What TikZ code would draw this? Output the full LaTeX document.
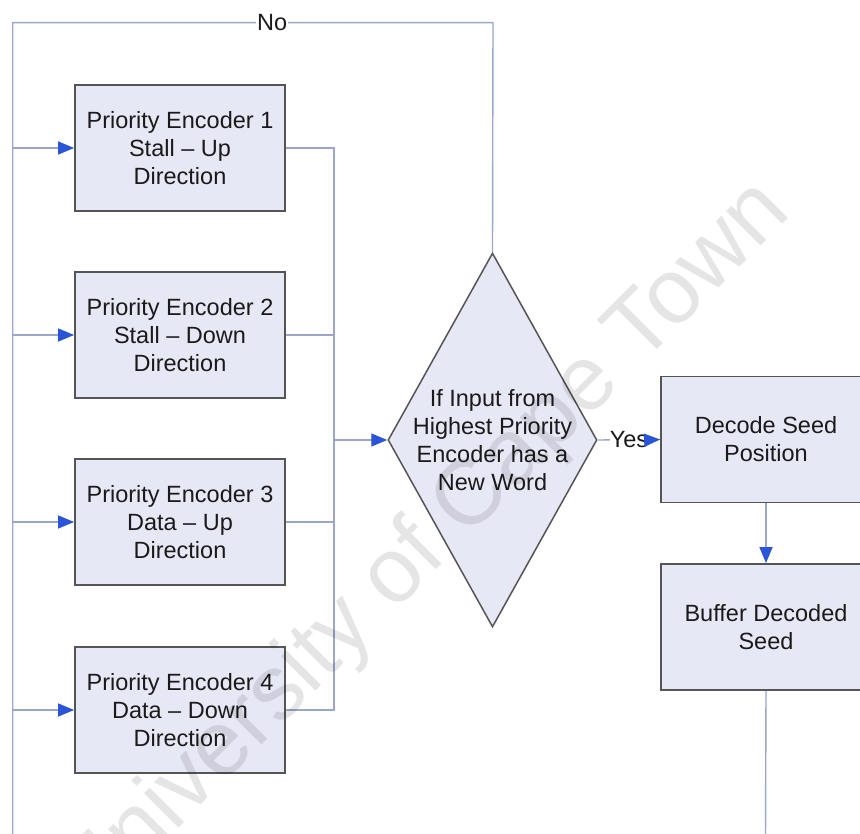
\documentclass[tikz,border=0pt]{standalone}
\usepackage{fontspec}
\setmainfont{Liberation Sans}
\usetikzlibrary{arrows.meta,shapes.geometric}

\definecolor{wire}{HTML}{9AA6CC}
\definecolor{tipblue}{HTML}{2A55D6}
\definecolor{boxfill}{HTML}{E7E8F6}
\definecolor{boxline}{HTML}{555555}
\definecolor{ink}{HTML}{1A1A1A}

\tikzset{
  wireline/.style={draw=wire, line width=1.4pt},
  flow/.style={wireline, -{Triangle[length=16pt,width=13pt,fill=tipblue,color=tipblue]}},
  stepbox/.style={rectangle, draw=boxline, line width=1.8pt, fill=boxfill,
    minimum width=210pt, minimum height=126pt, inner sep=0pt,
    align=center, text=ink, font=\fontsize{23.5}{28}\selectfont},
  decision/.style={diamond, draw=boxline, line width=1.5pt, fill=boxfill,
    minimum width=209pt, minimum height=374pt, inner xsep=-40pt, inner ysep=-40pt,
    align=center, text=ink, font=\fontsize{23.5}{28}\selectfont},
  tag/.style={fill=white, inner sep=1pt, text=ink, font=\fontsize{23.5}{28}\selectfont},
}

\begin{document}
\begin{tikzpicture}[x=1pt, y=-1pt]
  \useasboundingbox (0,0) rectangle (860,834);
  \clip (0,0) rectangle (860,834);

  % feedback loop corners and the shared collector rail
  \coordinate (ltop) at (12.7,22.6);
  \coordinate (lbot) at (12.7,840);
  \coordinate (rtop) at (493,22.6);
  \coordinate (bus)  at (334,0);
  \coordinate (outend) at (765.5,840);

  % encoder stages
  \node[stepbox] (b1) at (180,148) {Priority Encoder 1\\Stall -- Up\\Direction};
  \node[stepbox] (b2) at (180,335) {Priority Encoder 2\\Stall -- Down\\Direction};
  \node[stepbox] (b3) at (180,522) {Priority Encoder 3\\Data -- Up\\Direction};
  \node[stepbox] (b4) at (180,710) {Priority Encoder 4\\Data -- Down\\Direction};

  % decision and decoding
  \node[decision] (dia) at (492.5,440) {If Input from\\Highest Priority\\Encoder has a\\New Word};
  \node[stepbox] (dec) at (766,439.5) {Decode Seed\\Position};
  \node[stepbox] (buf) at (766,627) {Buffer Decoded\\Seed};

  % "No" loop back to every encoder
  \draw[wireline] (dia.north) -- (rtop) -- node[tag, pos=0.46] (no) {No} (ltop) -- (lbot);
  \foreach \b in {b1,b2,b3,b4}
    \draw[flow] (\b.west -| ltop) -- (\b.west);

  % encoder outputs gathered on the rail
  \draw[wireline] (b1.east) -- (b1.east -| bus) -- (b4.east -| bus) -- (b4.east);
  \draw[wireline] (b2.east) -- (b2.east -| bus);
  \draw[wireline] (b3.east) -- (b3.east -| bus);
  \draw[flow] (dia.west -| bus) -- (dia.west);

  % "Yes" path
  \draw[wireline] (dia.east) -- (dec.west);
  \node[tag, inner sep=0pt] (yes) at (629,440) {Yes};
  \draw[flow] (yes.east) -- (dec.west);
  \draw[flow] (dec.south) -- (buf.north);
  \draw[wireline] (buf.south) -- (outend);

  % watermark
  \node[rotate=45, text=black, text opacity=0.1, inner sep=0pt,
        font=\fontsize{92}{92}\selectfont] (wm) at (425,548) {University of Cape Town};
\end{tikzpicture}
\end{document}
